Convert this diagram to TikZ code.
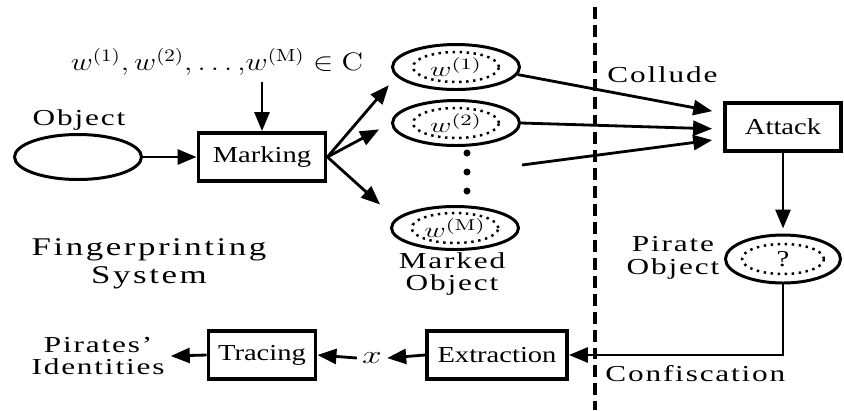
\documentclass[tikz,border=0pt]{standalone}
\usepackage[no-math]{fontspec}
\setmainfont{Liberation Serif}[FakeStretch=1.25]
\newfontfamily\widefont{Liberation Serif}[FakeStretch=1.37,LetterSpace=8]
\newfontfamily\widerfont{Liberation Serif}[FakeStretch=1.37,LetterSpace=10]
\usepackage{tikz}
\usetikzlibrary{arrows.meta, positioning, calc, shapes.geometric}
\newcommand{\wmark}[2][1.4]{\scalebox{#1}[1]{$w^{(#2)}$}}

\begin{document}
\begin{tikzpicture}[x=0.02cm, y=-0.02cm,
    >={Triangle[length=0.38cm, width=0.3cm]},
    arr/.style={->, line width=1.6pt},
    blk/.style={draw, line width=2.2pt, minimum height=0.96cm, inner sep=0pt,
      font=\fontsize{13}{14}\selectfont},
    obj/.style={ellipse, draw, line width=1.7pt, minimum width=2.54cm,
      minimum height=0.9cm, inner sep=0pt},
    wm/.style={ellipse, draw, line width=1.4pt, dash pattern=on 1.4pt off 2.6pt,
      minimum width=1.72cm, minimum height=0.6cm, inner sep=0pt,
      font=\fontsize{13}{15}\selectfont},
    txt/.style={font=\widefont\fontsize{13}{12.8}\selectfont, align=center, inner sep=0pt}]
  \useasboundingbox (0,0) rectangle (844,410);

  % Fingerprinting side
  \node[obj] (obj) at (78,157) {};
  \node[txt] (objlab) at (79,120) {Object};
  \node[blk, minimum width=2.54cm] (mark) at (262,157) {Marking};
  \node[font=\fontsize{14}{16}\selectfont] (code) at (217,62)
    {\scalebox{1.2}[1]{$w^{(1)}{,}\,w^{(2)}{,}\ldots{,}w^{(\mathrm{M})}\in\mathrm{C}$}};
  \draw[arr] (obj) -- (mark);
  \draw[arr] (code.south -| mark.north) -- (mark.north);

  % Marked copies
  \node[obj] (m1) at (456,67) {};
  \node[wm] (w1) at (m1) {\wmark{1}};
  \node[obj] (m2) at (456,123) {};
  \node[wm] (w2) at (m2) {\wmark{2}};
  \node[obj, minimum height=0.86cm] (mM) at (455,228) {};
  \node[wm] (wM) at (mM) {\wmark{\mathrm{M}}};
  \foreach \y in {153,172,191}
    \fill (467,\y) circle (0.07cm);
  \node[txt] (marklab) at (452,274) {Marked\\Object};
  \draw[arr, shorten >=0.23cm] (mark.east) -- (m1.189);
  \draw[arr, shorten >=0.27cm] (mark.east) -- (m2.west);
  \draw[arr, shorten >=0.42cm] (mark.east) -- (mM.171);

  \node[txt, font=\widerfont\fontsize{14.5}{16}\selectfont] (syslab) at (149,264)
    {Fingerprinting\\System};

  % Boundary
  \coordinate (top) at (595,7);
  \coordinate (bot) at (595,410);
  \draw[line width=2.8pt, dash pattern=on 6.8pt off 3.4pt] (top) -- (bot);
  \node[txt, anchor=west] (collude) at (607,75) {Collude};
  \node[txt, anchor=west] (confis) at (605,374) {Confiscation};

  % Attack side
  \node[blk, minimum width=2.32cm] (attack) at (783,127) {Attack};
  \coordinate (c3) at (522,165);
  \draw[arr, shorten >=0.22cm] (m1.-7) -- (attack.167);
  \draw[arr, shorten >=0.22cm] (m2.east) -- (attack.182);
  \draw[arr, shorten >=0.22cm] (c3) -- (attack.191);
  \node[obj, minimum width=2.3cm, minimum height=0.96cm] (pirate) at (783,259) {};
  \node[wm, minimum width=1.64cm] (q) at (pirate) {?};
  \node[txt] (pirlab) at (673,258) {Pirate\\Object};
  \draw[arr, shorten >=0.1cm] (attack) -- (pirate);

  % Tracing side
  \node[blk, minimum width=2.8cm] (extract) at (497,355) {Extraction};
  \node[inner sep=0.1cm, font=\fontsize{14}{16}\selectfont] (xlab) at (372,358)
    {\scalebox{1.4}[1]{$x$}};
  \node[blk, minimum width=2.14cm] (trace) at (262,355) {Tracing};
  \node[txt] (ident) at (98,356) {Pirates’\\Identities};
  \draw[arr] (pirate.south) |- (extract.east);
  \draw[arr] (extract.west) -- (xlab.east);
  \draw[arr] (xlab.west) -- (trace.east);
  \draw[arr] (trace.west) -- ([xshift=0.12cm]ident.east);
\end{tikzpicture}
\end{document}
